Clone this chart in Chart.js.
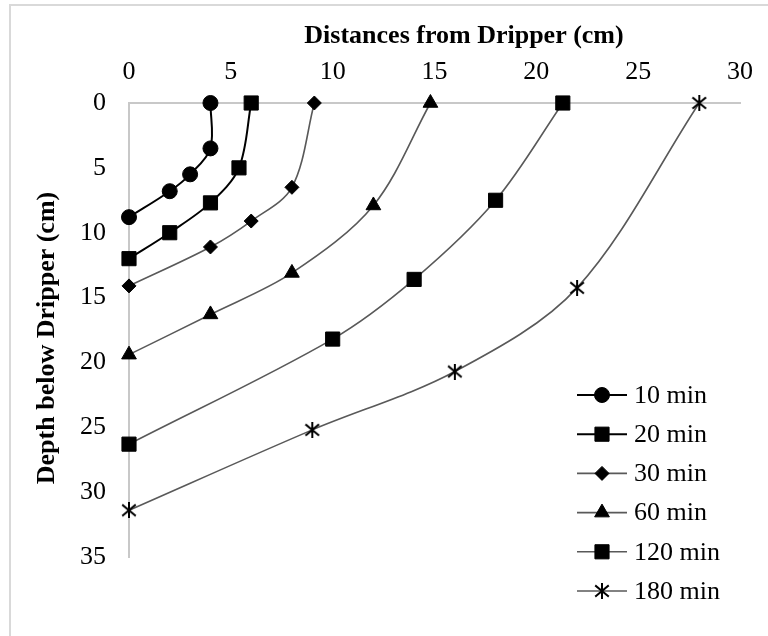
<!DOCTYPE html>
<html lang="en">
<head>
<meta charset="UTF-8">
<title>Wetting Front Advance</title>
<script src="https://cdn.jsdelivr.net/npm/chart.js@4"></script>
<style>
  html, body { margin: 0; padding: 0; background: #fff; }
</style>
</head>
<body>
<canvas id="front" width="768" height="636"></canvas>
<script>
// horizontal distance (cm) and depth (cm) of the wetting front after each run time
const seriesNames = ['10 min', '20 min', '30 min', '60 min', '120 min', '180 min'];
const dist10 = [4, 4, 3, 2, 0];
const depth10 = [0, 3.5, 5.5, 6.8, 8.8];
const dist20 = [6, 5.4, 4, 2, 0];
const depth20 = [0, 5, 7.7, 10, 12];
const dist30 = [9.1, 8, 6, 4, 0];
const depth30 = [0, 6.5, 9.1, 11.1, 14.1];
const dist60 = [14.8, 12, 8, 4, 0];
const depth60 = [0, 7.9, 13.1, 16.3, 19.4];
const dist120 = [21.3, 18, 14, 10, 0];
const depth120 = [0, 7.5, 13.6, 18.2, 26.3];
const dist180 = [28, 22, 16, 9, 0];
const depth180 = [0, 14.25, 20.7, 25.2, 31.4];
const xTicks = [0, 5, 10, 15, 20, 25, 30];
const yTicks = [0, 5, 10, 15, 20, 25, 30, 35];

const FONT = "'Liberation Serif', 'Times New Roman', serif";

// asterisk marker: an X with a vertical stroke through it
function starMarker() {
  const c = document.createElement('canvas');
  c.width = 16; c.height = 16;
  const g = c.getContext('2d');
  g.strokeStyle = '#000';
  g.lineWidth = 2;
  g.lineCap = 'square';
  g.beginPath();
  g.moveTo(2, 3); g.lineTo(14, 13);
  g.moveTo(14, 3); g.lineTo(2, 13);
  g.moveTo(8, 1); g.lineTo(8, 15);
  g.stroke();
  return c;
}

function pts(xs, ys) {
  return xs.map((x, i) => ({ x: x, y: ys[i] }));
}

const styles = [
  { color: '#000000', width: 2, point: 'circle', r: 7.5 },
  { color: '#000000', width: 2, point: 'rect', r: 10 },
  { color: '#595959', width: 1.6, point: 'rectRot', r: 7 },
  { color: '#595959', width: 1.6, point: 'triangle', r: 8.5 },
  { color: '#595959', width: 1.6, point: 'rect', r: 10 },
  { color: '#595959', width: 1.6, point: starMarker(), r: 7 }
];
const dataSets = [
  pts(dist10, depth10), pts(dist20, depth20), pts(dist30, depth30),
  pts(dist60, depth60), pts(dist120, depth120), pts(dist180, depth180)
];

const datasets = seriesNames.map((name, i) => ({
  label: name,
  data: dataSets[i],
  showLine: true,
  borderColor: styles[i].color,
  borderWidth: styles[i].width,
  tension: 0.33,
  pointStyle: styles[i].point,
  pointRadius: styles[i].r,
  pointBackgroundColor: '#000',
  pointBorderColor: '#000',
  pointBorderWidth: 1,
  clip: false
}));

// frame, titles and the legend are painted by hand
const decorations = {
  id: 'decorations',
  beforeDraw(chart) {
    const ctx = chart.ctx;
    ctx.save();
    ctx.strokeStyle = '#d9d9d9';
    ctx.lineWidth = 2;
    ctx.strokeRect(10, 5, 800, 700);
    ctx.restore();
  },
  afterDraw(chart) {
    const ctx = chart.ctx;
    ctx.save();
    ctx.fillStyle = '#000';
    ctx.textBaseline = 'middle';
    ctx.textAlign = 'center';
    ctx.font = 'bold 26px ' + FONT;
    ctx.fillText('Distances from Dripper (cm)', 464, 36);

    ctx.translate(47, 338);
    ctx.rotate(-Math.PI / 2);
    ctx.fillText('Depth below Dripper (cm)', 0, 0);
    ctx.restore();

    ctx.save();
    ctx.font = '26px ' + FONT;
    ctx.textBaseline = 'middle';
    ctx.textAlign = 'left';
    chart.data.datasets.forEach((ds, i) => {
      const y = 395 + i * 39.2;
      ctx.strokeStyle = ds.borderColor;
      ctx.lineWidth = ds.borderWidth;
      ctx.beginPath();
      ctx.moveTo(577, y);
      ctx.lineTo(627, y);
      ctx.stroke();
      ctx.fillStyle = '#000';
      ctx.strokeStyle = '#000';
      ctx.lineWidth = 1;
      Chart.helpers.drawPoint(ctx, {
        pointStyle: ds.pointStyle, radius: ds.pointRadius, rotation: 0, borderWidth: 1
      }, 602, y);
      ctx.fillStyle = '#000';
      ctx.fillText(ds.label, 634, y + 1);
    });
    ctx.restore();
  }
};

new Chart(document.getElementById('front'), {
  type: 'scatter',
  data: { datasets: datasets },
  plugins: [decorations],
  options: {
    responsive: false,
    devicePixelRatio: 1,
    animation: false,
    layout: { padding: { top: 0, left: 0, right: 26, bottom: 79 } },
    plugins: { legend: { display: false }, tooltip: { enabled: false } },
    scales: {
      x: {
        type: 'linear',
        position: 'top',
        min: xTicks[0],
        max: xTicks[xTicks.length - 1],
        afterBuildTicks(s) { s.ticks = xTicks.map(v => ({ value: v })); },
        afterFit(s) { s.height = 103; },
        ticks: { padding: 15, color: '#000', font: { family: FONT, size: 26 } },
        grid: { display: false, drawTicks: false },
        border: { display: true, color: '#c8c8c8', width: 2 }
      },
      y: {
        type: 'linear',
        reverse: true,
        min: yTicks[0],
        max: yTicks[yTicks.length - 1],
        afterBuildTicks(s) { s.ticks = yTicks.map(v => ({ value: v })); },
        afterFit(s) { s.width = 129; },
        ticks: { padding: 23, color: '#000', font: { family: FONT, size: 26 } },
        grid: { display: false, drawTicks: false },
        border: { display: true, color: '#c8c8c8', width: 2 }
      }
    }
  }
});
</script>
</body>
</html>
